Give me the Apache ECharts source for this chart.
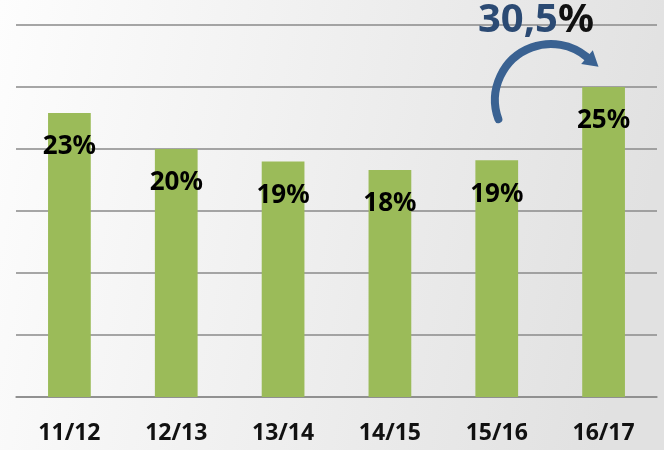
<!DOCTYPE html>
<html>
<head>
<meta charset="utf-8">
<script src="https://cdn.jsdelivr.net/npm/echarts@6/dist/echarts.min.js"></script>
<style>html,body{margin:0;padding:0;}#c{width:664px;height:450px;}</style>
</head>
<body>
<div id="c"></div>
<script>
const categories = ['11/12', '12/13', '13/14', '14/15', '15/16', '16/17'];
const values = [22.9, 20.0, 19.0, 18.3, 19.1, 25.0];
const growthText = '30,5';

const chart = echarts.init(document.getElementById('c'), null, { renderer: 'canvas' });

// arrow annotation geometry
const cx = 551, cy = 100, r = 56;
const a0 = 160 * Math.PI / 180, a1 = 310 * Math.PI / 180;
const ex = cx + r * Math.cos(a1), ey = cy + r * Math.sin(a1);
const tx = -Math.sin(a1), ty = Math.cos(a1);
const px = ty, py = -tx;
const hw = 9, hl = 15;
const head = [
  [ex + px * hw, ey + py * hw],
  [ex + tx * hl, ey + ty * hl],
  [ex - px * hw, ey - py * hw]
];

chart.setOption({
  backgroundColor: {
    type: 'linear', x: 0, y: 0, x2: 1, y2: 0.3,
    colorStops: [{ offset: 0, color: '#fdfdfd' }, { offset: 1, color: '#e1e1e1' }]
  },
  animation: false,
  grid: { left: 16, right: 7, top: 25, bottom: 53 },
  xAxis: {
    type: 'category',
    data: categories,
    axisLine: { lineStyle: { color: '#8a8a8a', width: 1.5 } },
    axisTick: { alignWithLabel: true, length: 6, lineStyle: { color: '#8a8a8a', width: 1.5 } },
    axisLabel: { color: '#111', fontFamily: 'Noto Sans', fontWeight: 'bold', fontSize: 23, margin: 25 }
  },
  yAxis: {
    type: 'value', min: 0, max: 30, interval: 5,
    axisLabel: { show: false }, axisLine: { show: false }, axisTick: { show: false },
    splitLine: { lineStyle: { color: '#8a8a8a', width: 1.5 } }
  },
  series: [{
    type: 'bar',
    data: values,
    barWidth: '40%',
    itemStyle: { color: '#9bbb59' },
    label: {
      show: true, position: 'insideTop', distance: 21,
      formatter: p => Math.round(p.value) + '%',
      color: '#000', fontFamily: 'Noto Sans', fontWeight: 'bold', fontSize: 26
    }
  }],
  graphic: [
    {
      type: 'arc', shape: { cx: cx, cy: cy, r: r, startAngle: a0, endAngle: a1, clockwise: true },
      style: { stroke: '#3a6292', lineWidth: 8, fill: null, lineCap: 'round' }, z: 10
    },
    { type: 'polygon', shape: { points: head }, style: { fill: '#3a6292' }, z: 10 },
    {
      type: 'text', x: 536, y: 21, z: 10,
      style: {
        text: '{a|' + growthText + '}{b|%}',
        align: 'center', verticalAlign: 'middle',
        rich: {
          a: { fontFamily: 'Noto Sans', fontWeight: 'bold', fontSize: 40, fill: '#2b4a73' },
          b: { fontFamily: 'Noto Sans', fontWeight: 'bold', fontSize: 40, fill: '#111' }
        }
      }
    }
  ]
});
</script>
</body>
</html>
